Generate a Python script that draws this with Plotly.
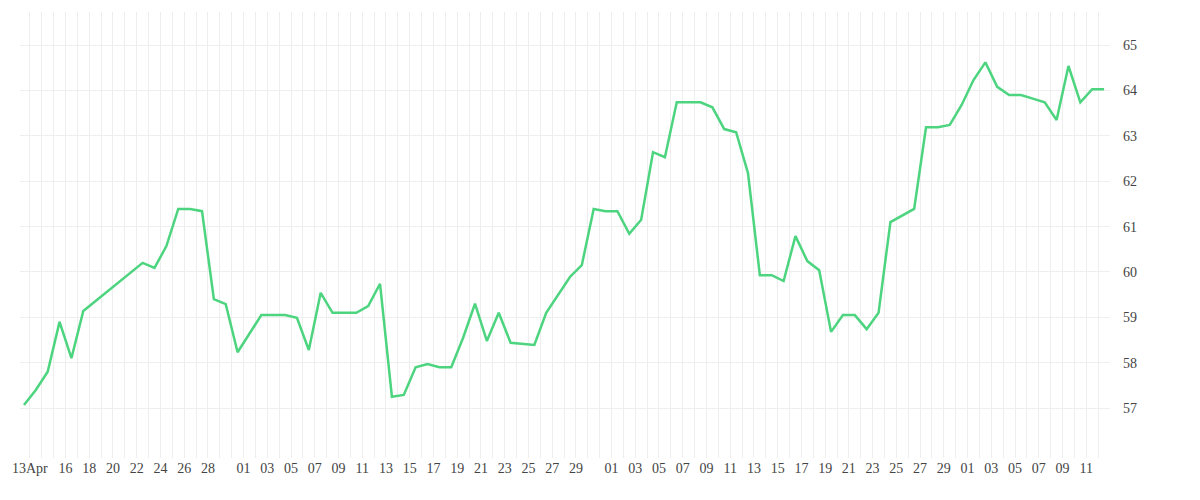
import pandas as pd
import plotly.graph_objects as go

# day offsets from 13 Apr and closing values
day_offset = [0, 1, 2, 3, 4, 5, 10, 11, 12, 13, 14, 15, 16, 17, 18, 20, 22, 23, 24, 25,
              26, 28, 29, 30, 31, 32, 33, 34, 35, 36, 37, 38, 39, 40, 41, 43, 44, 45, 46, 47,
              48, 49, 50, 51, 52, 53, 54, 55, 57, 58, 59, 60, 61, 62, 63, 64, 65, 66, 67, 68,
              69, 70, 71, 72, 73, 75, 76, 77, 78, 79, 80, 81, 82, 83, 84, 85, 86, 87, 88, 89,
              90, 91]
values = [57.07, 57.4, 57.8, 58.9, 58.1, 59.14, 60.2, 60.09, 60.57, 61.39, 61.39, 61.34, 59.4, 59.29, 58.23, 59.05, 59.05, 58.99, 58.28, 59.54,
          59.1, 59.1, 59.25, 59.74, 57.25, 57.29, 57.9, 57.97, 57.9, 57.9, 58.55, 59.3, 58.48, 59.1, 58.44, 58.39, 59.1, 59.5, 59.89, 60.15,
          61.39, 61.34, 61.34, 60.84, 61.15, 62.64, 62.53, 63.74, 63.74, 63.63, 63.15, 63.08, 62.18, 59.93, 59.93, 59.8, 60.79, 60.24, 60.04, 58.68,
          59.05, 59.05, 58.74, 59.1, 61.1, 61.39, 63.19, 63.19, 63.24, 63.68, 64.23, 64.62, 64.08, 63.9, 63.9, 63.82, 63.74, 63.35, 64.54, 63.74,
          64.03, 64.03]

tick_days = (["2024-04-13", "2024-04-16", "2024-04-18", "2024-04-20", "2024-04-22",
              "2024-04-24", "2024-04-26", "2024-04-28"]
             + [f"2024-05-{d:02d}" for d in range(1, 30, 2)]
             + [f"2024-06-{d:02d}" for d in range(1, 30, 2)]
             + [f"2024-07-{d:02d}" for d in range(1, 12, 2)])
tick_text = ["13Apr"] + [t[-2:] for t in tick_days[1:]]

start = pd.Timestamp("2024-04-13")
dates = [start + pd.Timedelta(days=d) for d in day_offset]
tickvals = [pd.Timestamp(t) + pd.Timedelta(hours=12) for t in tick_days]

fig = go.Figure(go.Scatter(x=dates, y=values, mode="lines",
                           line=dict(color="#4cd47f", width=2.5)))

fig.update_layout(
    width=1200, height=500,
    margin=dict(l=8, r=98, t=4, b=50),
    plot_bgcolor="white", paper_bgcolor="white",
    showlegend=False,
    font=dict(family="Liberation Serif", size=14, color="#444"),
)
fig.update_xaxes(
    range=[start - pd.Timedelta(hours=8), start + pd.Timedelta(days=91, hours=12)],
    tickvals=tickvals, ticktext=tick_text,
    showgrid=True, gridcolor="#eeeeee", gridwidth=1,
    minor=dict(dtick=86400000, tick0="2024-04-13 12:00", showgrid=True,
               gridcolor="#eeeeee", gridwidth=1),
    ticks="", zeroline=False, showline=False,
    tickfont=dict(family="Liberation Serif", size=14),
)
fig.update_yaxes(
    side="right", range=[55.9, 65.73],
    tickvals=[57, 58, 59, 60, 61, 62, 63, 64, 65],
    showgrid=True, gridcolor="#eeeeee", zeroline=False, ticks="",
    ticklabelstandoff=12,
    tickfont=dict(family="Liberation Serif", size=14),
)
fig.write_html("out.html")
